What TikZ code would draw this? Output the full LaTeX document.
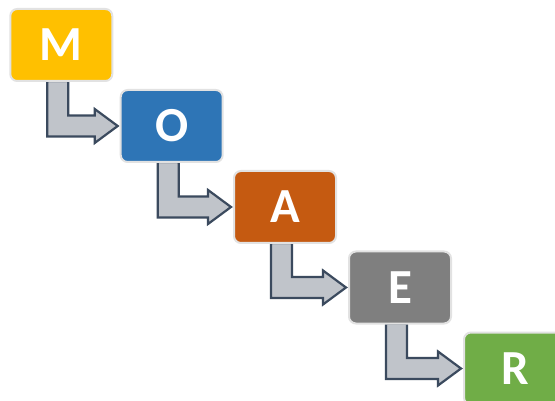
\documentclass[tikz,border=0pt]{standalone}
\usepackage{fontspec}
\setmainfont{Carlito}
\usetikzlibrary{calc}
\definecolor{cM}{HTML}{FFC000}
\definecolor{cO}{HTML}{2E75B6}
\definecolor{cA}{HTML}{C55A11}
\definecolor{cE}{HTML}{7F7F7F}
\definecolor{cR}{HTML}{70AD47}
\definecolor{arrline}{HTML}{3B4A5E}
\definecolor{arrfill}{HTML}{C0C4CA}
\definecolor{boxline}{HTML}{E2E2E2}
\tikzset{
  stepbox/.style={draw=boxline, line width=2pt, rounded corners=7pt,
    minimum width=102pt, minimum height=72pt, inner sep=0pt, outer sep=0pt,
    text=white, font=\fontsize{49}{49}\selectfont\bfseries},
  bentarrow/.style={draw=arrline, fill=arrfill, line width=2.2pt, line join=miter}
}
\newcommand{\bentarr}[2]{%
  \path[bentarrow] let \p1=(#1.south), \p2=(#2.west) in
    (\x1-14pt,\y1) -- (\x1+7pt,\y1) -- (\x1+7pt,\y2+10.5pt)
    -- (\x2-26pt,\y2+10.5pt) -- (\x2-26pt,\y2+17pt) -- (\x2-3pt,\y2)
    -- (\x2-26pt,\y2-17pt) -- (\x2-26pt,\y2-10.5pt) -- (\x1-14pt,\y2-10.5pt) -- cycle;}
\begin{document}
\begin{tikzpicture}
\useasboundingbox (0pt,0pt) rectangle (555pt,-401pt);
\clip (0pt,0pt) rectangle (555pt,-401pt);
\path[fill=white] (0pt,0pt) rectangle (555pt,-401pt);
% coordinates for placement
\coordinate (pm) at (61.3pt,-45pt);
\coordinate (po) at (171.7pt,-126pt);
\coordinate (pa) at (285pt,-207pt);
\coordinate (pe) at (400pt,-287.5pt);
\coordinate (pr) at (515pt,-368.5pt);
% invisible phantom nodes for anchors
\node[stepbox, draw=none, text opacity=0] (m) at (pm) {M};
\node[stepbox, draw=none, text opacity=0] (o) at (po) {O};
\node[stepbox, draw=none, text opacity=0] (a) at (pa) {A};
\node[stepbox, draw=none, text opacity=0] (e) at (pe) {E};
\node[stepbox, draw=none, text opacity=0] (r) at (pr) {R};
\bentarr{m}{o}
\bentarr{o}{a}
\bentarr{a}{e}
\bentarr{e}{r}
\node[stepbox, fill=cM] at (m) {M};
\node[stepbox, fill=cO] at (o) {O};
\node[stepbox, fill=cA] at (a) {A};
\node[stepbox, fill=cE] at (e) {E};
\node[stepbox, fill=cR] at (r) {R};
\end{tikzpicture}
\end{document}
